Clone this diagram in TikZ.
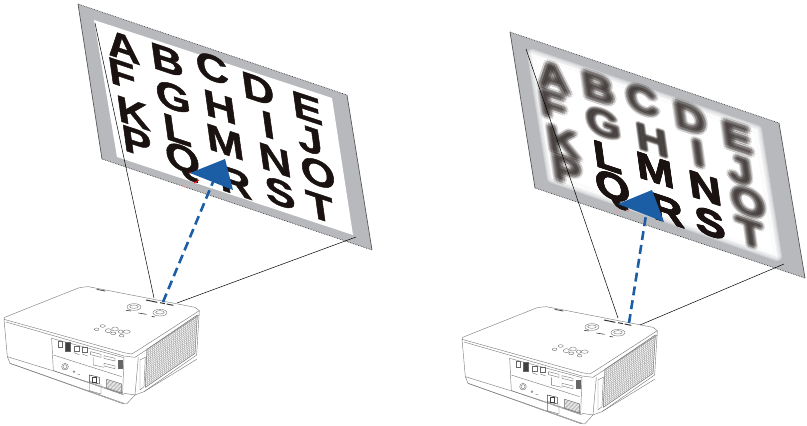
\documentclass[tikz,border=0pt]{standalone}
\usepackage{fontspec}
\setmainfont{Liberation Sans}
\newfontfamily\chartfont[BoldFeatures={FakeBold=1.2}]{Liberation Sans}
\usetikzlibrary{calc}
\definecolor{beamblue}{RGB}{27,94,166}
\definecolor{screengray}{RGB}{183,185,189}
\definecolor{inkblack}{RGB}{26,18,16}
\tikzset{
  chartletter/.style={font=\chartfont\fontsize{38}{38}\selectfont\bfseries,text=inkblack,inner sep=0pt,
    cm={1.18,-.39,-.14,1,(0,0)},transform shape},
  beamline/.style={black,line width=.5pt},
  beamdash/.style={beamblue,line width=2.6pt,dash pattern=on 9pt off 5pt},
  beamhead/.style={fill=beamblue,draw=none},
  screenedge/.style={gray!70!black,line width=.7pt},
  screendots/.style={black!75,line width=.7pt,densely dotted},
  body/.style={black!50,line width=.45pt,line join=round},
  port/.style={black!60,line width=.35pt}
}
\newcommand\projector[1]{
\begin{scope}[shift={#1},shift={(0,260)},x=.3333pt,y=-.3333pt]
\draw[body,fill=white] (12,178)--(14,172)--(235,84) to[out=15,in=185] (265,80)--(585,142)--(598,152)
  --(590,285)--(432,395)--(405,405)--(380,432)--(365,430)--(30,310)--(22,290)--cycle;
\draw[body] (12,178)--(372,278)--(395,282)--(412,272)--(598,152);
\draw[body] (18,186)--(372,288)--(405,292)--(598,165);
\draw[body] (22,290)--(158,332);
\draw[body] (372,400)--(405,405)--(415,292);
\draw[body] (160,332)--(372,405);
\draw[body] (432,395)--(590,298);
\draw[body] (30,310)--(372,430);
\draw[body] (420,300)--(436,292)--(432,380)--(420,390)--cycle;
\coordinate (g1) at (441,268);
\coordinate (g2) at (592,165);
\coordinate (g3) at (585,280);
\coordinate (g4) at (436,382);
\foreach \i in {0,...,26}
  \draw[black!40,line width=.3pt] ($(g1)!\i/26!(g2)$)--($(g4)!\i/26!(g3)$);
\foreach \i in {0,...,20}
  \draw[black!40,line width=.3pt] ($(g1)!\i/20!(g4)$)--($(g2)!\i/20!(g3)$);
\draw[body] (g1)--(g2)--(g3)--(g4)--cycle;
\draw[body] (155,235)--(372,293)--(368,400)--(160,332)--cycle;
\draw[body] (160,285)--(365,350);
\draw[port] (174,243) rectangle (188,262);
\draw[port,fill=black!75] (195,248) rectangle (210,274);
\draw[port] (222,258) rectangle (238,274);
\draw[port] (247,262) rectangle (263,278);
\draw[port] (222,278)--(238,284) (247,282)--(263,288);
\draw[port] (272,275)--(303,283)--(303,292)--(272,284)--cycle;
\draw[port] (312,287)--(345,295)--(345,303)--(312,295)--cycle;
\draw[port] (312,310)--(345,318)--(345,326)--(312,318)--cycle;
\draw[port,fill=black!60] (356,300) rectangle (367,325);
\draw[port] (280,292)--(280,315)--(312,322);
\draw[port] (195,320) circle (10);
\draw[port] (195,320) circle (6);
\draw[port] (222,335) circle (3);
\draw[port] (232,342)--(240,344);
\draw[black!75,line width=.5pt] (268,345)--(298,352)--(298,372)--(268,365)--cycle;
\draw[black!75,line width=.5pt] (278,352) rectangle (290,368);
\draw[port] (268,365)--(268,392)--(303,402)--(303,372);
\draw[port] (320,358)--(365,372)--(365,400)--(320,385)--cycle;
\foreach \i in {0,...,7}
  \draw[black!50,line width=.3pt] ($(320,358)!\i/7!(320,385)$)--($(365,372)!\i/7!(365,400)$);
\foreach \cx/\cy/\rx/\ry in {290/208/7/4,308/198/8/4,325/212/9/6,345/207/10/6,340/220/8/4,
    362/215/7/5,380/215/11/5,365/227/7/4}
  \draw[port] (\cx,\cy) ellipse ({\rx} and {\ry});
\draw[port] (402,141) ellipse (21 and 10);
\draw[port] (402,140) ellipse (13 and 5);
\draw[port] (480,158) ellipse (21 and 10);
\draw[port] (480,157) ellipse (13 and 5);
\draw[black!75,line width=.6pt] (378,151)--(393,153) (415,159)--(440,163) (455,169)--(465,171);
\draw[black!80,line width=1pt] (438,120)--(472,127) (480,128)--(495,131) (500,132)--(520,136);
\draw[black!65,line width=.9pt] (290,88)--(316,93);
\end{scope}}
\begin{document}
\begin{tikzpicture}[x=1pt,y=-1pt]
\useasboundingbox (0,0) rectangle (807,426);
\fill[screengray] (78,4)--(347,95)--(372,250)--(102,159)--cycle;
\fill[white] (94,20)--(332,98)--(353,235)--(117,157)--cycle;
\draw[screendots] (78,4)--(347,95);
\draw[screendots] (102,159)--(372,250);
\draw[screenedge] (78,4)--(102,159);
\draw[screenedge] (347,95)--(372,250);
\foreach \px/\py/\t in {123/47/A,167/60/B,212/68/C,258/89/D,307/108/E,
    122/74/F,173/97/G,220/107/H,268/125/I,310/140/J,
    133/113/K,177/130/L,225/142/M,275/160/N,318/173/O,
    137/142/P,183/162/Q,235/182/R,280/193/S,320/207/T}
  \node (l\t) [shift={(\px,\py)},chartletter] {\t};
\draw[red,line width=.8pt] (189,172)--(195,173) (194,183)--(199,180);
\draw[red!40,line width=.8pt] (182,186)--(185,187);

\fill[screengray] (510,32)--(779,123)--(805,278)--(535,188)--cycle;
\foreach \w in {10,8,6,4,2,0}
  \draw[white,fill=white,opacity=.3,line width=\w pt,line join=round]
    (532,54)--(757,130)--(777,256)--(552,178)--cycle;
\fill[white] (536,58)--(754,133)--(773,252)--(556,175)--cycle;
\draw[screendots] (510,32)--(779,123);
\draw[screendots] (535,188)--(805,278);
\draw[screenedge] (510,32)--(535,188);
\draw[screenedge] (779,123)--(805,278);
\foreach \px/\py/\t/\b in {553/77/A/3.4,598/88/B/3.4,642/100/C/3,690/118/D/3.4,737/137/E/3.4,
    553/105/F/3.4,603/123/G/2.2,652/140/H/1.6,698/153/I/2.8,740/170/J/3,
    563/142/K/3,607/157/L/.4,655/170/M/.3,705/188/N/.6,748/202/O/3,
    567/170/P/3.4,613/190/Q/.4,667/210/R/.3,710/223/S/.5,750/233/T/2.8}
  {\pgfmathsetmacro\op{\b>1.2 ? .085 : .25}
  \foreach \k in {0,45,...,315}{
    \node (r\t\k) [shift={({\px+\b*cos(\k)},{\py+\b*sin(\k)})},chartletter,opacity=\op] {\t};
    \node (s\t\k) [shift={({\px+.5*\b*cos(\k)},{\py+.5*\b*sin(\k)})},chartletter,opacity=\op] {\t};
  }}
\draw[red!40,line width=.8pt] (616,211)--(620,212) (626,210)--(629,211);

\projector{(0,0)}
\projector{(458,20)}

\coordinate (lscreenA) at (95,23);
\coordinate (lscreenB) at (356,237);
\coordinate (ltop) at (154,298);
\coordinate (lbot) at (177,303);
\coordinate (llens) at (163,302);
\coordinate (lbase) at (213,182);
\coordinate (lapex) at (225,159);
\coordinate (lleft) at (190,173);
\coordinate (lright) at (233,190);
\draw[beamline] (lscreenA)--(ltop);
\draw[beamline] (lscreenB)--(lbot);
\draw[beamdash] (llens)--(lbase);
\fill[beamhead] (lapex)--(lleft)--(lright)--cycle;

\coordinate (rscreenA) at (526,49);
\coordinate (rscreenB) at (784,264);
\coordinate (rtop) at (618,318);
\coordinate (rbot) at (640,325);
\coordinate (rlens) at (629,323);
\coordinate (rbase) at (646,215);
\coordinate (rapex) at (652,190);
\coordinate (rleft) at (618,204);
\coordinate (rright) at (664,222);
\draw[beamline] (rscreenA)--(rtop);
\draw[beamline] (rscreenB)--(rbot);
\draw[beamdash] (rlens)--(rbase);
\fill[beamhead] (rapex)--(rleft)--(rright)--cycle;
\end{tikzpicture}
\end{document}
